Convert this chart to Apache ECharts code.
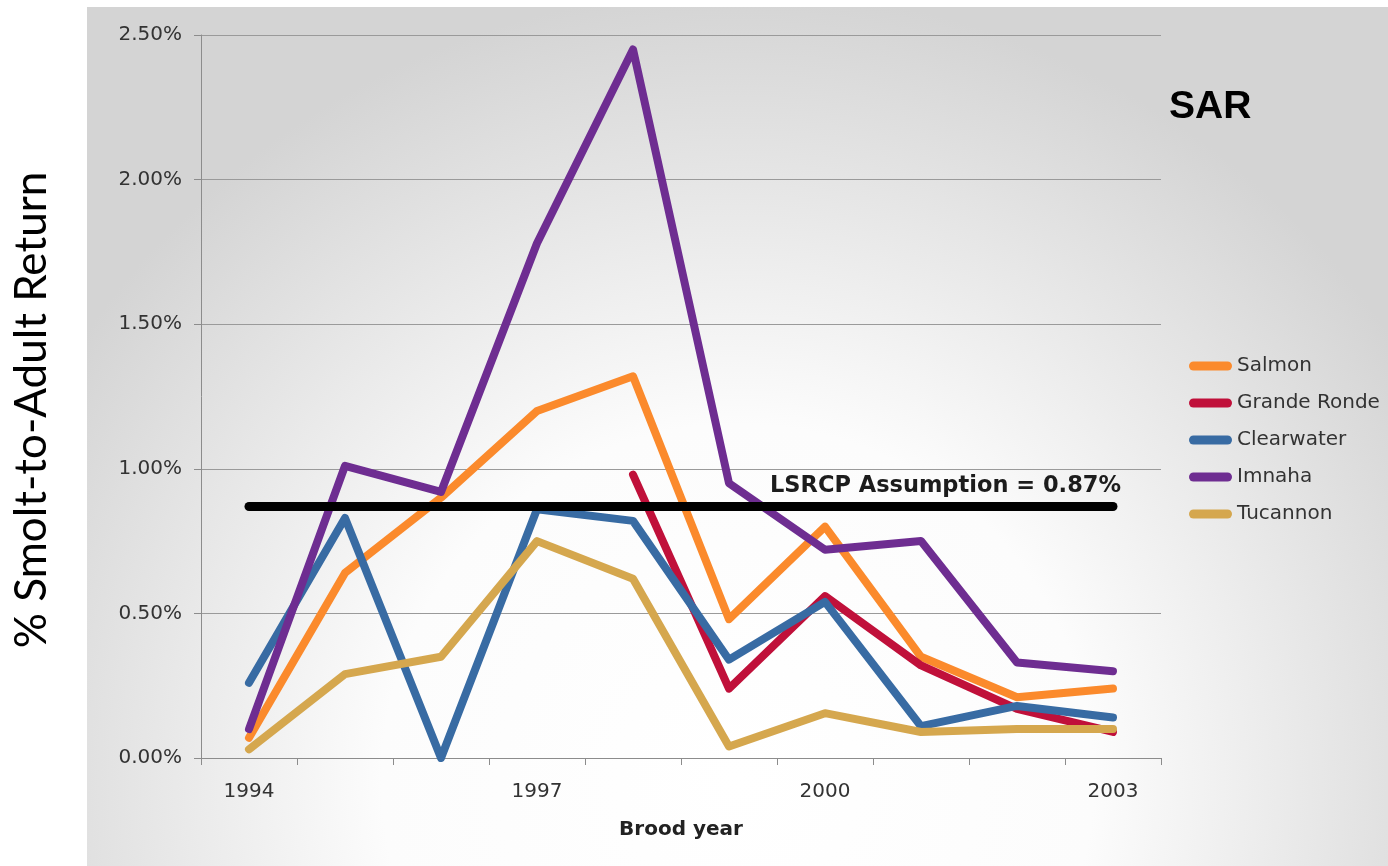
<!DOCTYPE html>
<html>
<head>
<meta charset="utf-8">
<script src="https://cdn.jsdelivr.net/npm/echarts@6/dist/echarts.min.js"></script>
<style>
  html, body { margin: 0; padding: 0; background: #ffffff; }
  #chart { width: 1388px; height: 866px; }
</style>
</head>
<body>
<div id="chart"></div>
<script>
// Brood years on the x axis
const years = ['1994', '1995', '1996', '1997', '1998', '1999', '2000', '2001', '2002', '2003'];

// Smolt-to-adult return, in percent, by stock
const salmon      = [0.07, 0.64, 0.90, 1.20, 1.32, 0.48, 0.80, 0.35, 0.21, 0.24];
const grandeRonde = [null, null, null, null, 0.98, 0.24, 0.56, 0.32, 0.17, 0.09];
const clearwater  = [0.26, 0.83, 0.00, 0.86, 0.82, 0.34, 0.54, 0.11, 0.18, 0.14];
const imnaha      = [0.10, 1.01, 0.92, 1.78, 2.45, 0.95, 0.72, 0.75, 0.33, 0.30];
const tucannon    = [0.03, 0.29, 0.35, 0.75, 0.62, 0.04, 0.155, 0.09, 0.10, 0.10];

// Program planning assumption, in percent
const lsrcpAssumption = 0.87;

const stockNames  = ['Salmon', 'Grande Ronde', 'Clearwater', 'Imnaha', 'Tucannon'];
const stockData   = [salmon, grandeRonde, clearwater, imnaha, tucannon];
const stockColors = ['#fb8a2c', '#c0103a', '#386ba3', '#6e2d91', '#d5a74e'];

const labelFont = 'DejaVu Sans, Verdana, sans-serif';
const axisGray = '#8c8c8c';

const chart = echarts.init(document.getElementById('chart'), null, { renderer: 'canvas' });

const series = stockNames.map((name, i) => ({
  name: name,
  type: 'line',
  data: stockData[i],
  symbol: 'none',
  showSymbol: false,
  connectNulls: false,
  color: stockColors[i],
  lineStyle: { width: 8, color: stockColors[i], cap: 'round', join: 'round' }
}));

// Reference line for the LSRCP assumption, drawn on top of the stocks
series.push({
  name: 'LSRCP',
  type: 'line',
  data: [],
  symbol: 'none',
  markLine: {
    silent: true,
    symbol: 'none',
    lineStyle: { color: '#000000', width: 9, type: 'solid', cap: 'round' },
    label: {
      show: true,
      position: 'insideEndTop',
      distance: [-8, 9],
      formatter: () => 'LSRCP Assumption = ' + lsrcpAssumption.toFixed(2) + '%',
      fontFamily: labelFont,
      fontWeight: 'bold',
      fontSize: 22.5,
      color: '#1c1c1c'
    },
    data: [[
      { coord: [years[0], lsrcpAssumption] },
      { coord: [years[years.length - 1], lsrcpAssumption] }
    ]]
  }
});

const option = {
  animation: false,
  backgroundColor: '#ffffff',
  graphic: [
    {
      type: 'rect',
      z: -100,
      silent: true,
      shape: { x: 87, y: 7, width: 1301, height: 859 },
      style: {
        fill: {
          type: 'radial', x: 0.5, y: 0.9, r: 0.92,
          colorStops: [
            { offset: 0, color: '#ffffff' },
            { offset: 0.45, color: '#fcfcfc' },
            { offset: 1, color: '#d4d4d4' }
          ]
        }
      }
    },
    {
      type: 'text',
      silent: true,
      x: 32,
      y: 410,
      rotation: Math.PI / 2,
      style: {
        text: '% Smolt-to-Adult Return',
        fontFamily: 'Lato, "Open Sans", sans-serif',
        fontSize: 44,
        fill: '#000000',
        align: 'center',
        verticalAlign: 'middle'
      }
    }
  ],
  title: {
    text: 'SAR',
    left: 1169,
    top: 88,
    padding: 0,
    textStyle: {
      fontFamily: '"Liberation Sans", Arial, sans-serif',
      fontWeight: 'bold',
      fontSize: 39,
      color: '#000000'
    }
  },
  legend: {
    orient: 'vertical',
    left: 1189,
    top: 356,
    padding: 0,
    itemGap: 17,
    itemWidth: 43,
    itemHeight: 9,
    icon: 'path://M5 0H43A5 5 0 0 1 43 10H5A5 5 0 0 1 5 0Z',
    data: stockNames,
    textStyle: {
      fontFamily: labelFont,
      fontSize: 20,
      lineHeight: 20,
      color: '#333333'
    }
  },
  grid: { left: 201, right: 227, top: 35, bottom: 108 },
  xAxis: {
    type: 'category',
    data: years,
    boundaryGap: true,
    name: 'Brood year',
    nameLocation: 'middle',
    nameGap: 62,
    nameTextStyle: {
      fontFamily: labelFont,
      fontWeight: 'bold',
      fontSize: 20,
      color: '#222222'
    },
    axisLine: { show: true, lineStyle: { color: axisGray, width: 1 } },
    axisTick: { show: true, interval: 0, length: 7, lineStyle: { color: axisGray } },
    axisLabel: {
      interval: 2,
      margin: 24,
      fontFamily: labelFont,
      fontSize: 20,
      color: '#333333'
    },
    splitLine: { show: false }
  },
  yAxis: {
    type: 'value',
    min: 0,
    max: 2.5,
    interval: 0.5,
    axisLine: { show: true, lineStyle: { color: axisGray, width: 1 } },
    axisTick: { show: true, length: 7, lineStyle: { color: axisGray } },
    axisLabel: {
      margin: 19,
      formatter: v => v.toFixed(2) + '%',
      fontFamily: labelFont,
      fontSize: 20,
      color: '#333333'
    },
    splitLine: { show: true, lineStyle: { color: '#9a9a9a', width: 1 } }
  },
  series: series
};

chart.setOption(option);
</script>
</body>
</html>
